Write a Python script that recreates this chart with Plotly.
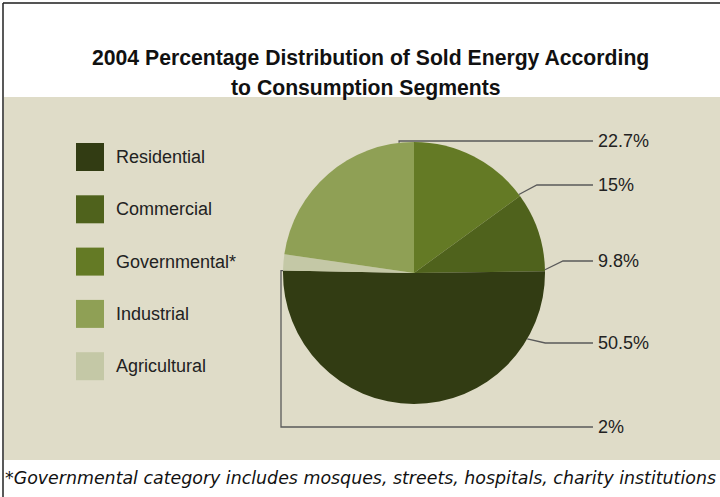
import math
import plotly.graph_objects as go

# Sold energy shares (%) by consumption segment, in clockwise slice order from 12 o'clock
segments = ["Governmental", "Commercial", "Residential", "Agricultural", "Industrial"]
shares = [15, 9.8, 50.5, 2, 22.7]
colors = ["#647a25", "#4f621c", "#323c13", "#c4c8a6", "#8fa055"]

# Legend order and labels
legend_order = ["Residential", "Commercial", "Governmental", "Industrial", "Agricultural"]
legend_text = ["Residential", "Commercial", "Governmental*", "Industrial", "Agricultural"]

W, H = 720, 497
BG = "#dfdcc8"

# pie geometry in pixels
cx, cy, R = 414, 273, 131


def px(x):
    return x / W


def py(y):
    return 1 - y / H


fig = go.Figure(go.Pie(
    labels=segments,
    values=shares,
    marker=dict(colors=colors, line=dict(width=0)),
    sort=False,
    direction="clockwise",
    rotation=0,
    textinfo="none",
    hoverinfo="label+percent",
    showlegend=False,
    domain=dict(x=[px(cx - R), px(cx + R)], y=[py(cy + R), py(cy - R)]),
))

shapes = []
annotations = []

# frame and panel background
shapes.append(dict(type="rect", xref="paper", yref="paper", x0=px(4), x1=1, y0=py(460), y1=py(97),
                   fillcolor=BG, line=dict(width=0), layer="below"))
shapes.append(dict(type="line", xref="paper", yref="paper", x0=px(3), x1=1, y0=py(3), y1=py(3),
                   line=dict(color="#555555", width=2)))
shapes.append(dict(type="line", xref="paper", yref="paper", x0=px(3), x1=px(3), y0=py(3), y1=0,
                   line=dict(color="#222222", width=1.5)))

# title
title_font = dict(family="Liberation Sans", size=21.2, color="#111111")
annotations.append(dict(
    text="<b>2004 Percentage Distribution of Sold Energy According</b>",
    x=px(371), y=py(58), xref="paper", yref="paper", showarrow=False,
    font=title_font, xanchor="center", yanchor="middle"))
annotations.append(dict(
    text="<b>to Consumption Segments</b>",
    x=px(366), y=py(88), xref="paper", yref="paper", showarrow=False,
    font=title_font, xanchor="center", yanchor="middle"))

# legend swatches
text_font = dict(family="Liberation Sans", size=18, color="#222222")
color_of = dict(zip(segments, colors))
for i, (name, txt) in enumerate(zip(legend_order, legend_text)):
    yc = 157 + i * 52.3
    shapes.append(dict(type="rect", xref="paper", yref="paper",
                       x0=px(76), x1=px(104), y0=py(yc + 14), y1=py(yc - 14),
                       fillcolor=color_of[name], line=dict(width=0)))
    annotations.append(dict(text=txt, x=px(114), y=py(yc), xref="paper", yref="paper",
                            showarrow=False, xanchor="left", yanchor="middle", font=text_font))

# leader lines: anchor angle on the rim (degrees clockwise from 12 o'clock),
# optional elbow, then a horizontal run to the label column
label_x = 593
cum = []
acc = 0
for v in shares:
    cum.append((acc, acc + v))
    acc += v
total = sum(shares)
# where along each slice (0=start, 1=end) the leader touches the rim
attach_frac = {"Governmental": 0.985, "Commercial": 0.98, "Residential": 0.17,
               "Agricultural": 0.0, "Industrial": 0.92}
label_y = {"Industrial": 141, "Governmental": 185, "Commercial": 261,
           "Residential": 343, "Agricultural": 427}

for name, v, (a0, a1) in zip(segments, shares, cum):
    f = attach_frac[name]
    ang = math.radians(360 * (a0 + f * (a1 - a0)) / total)
    ax = cx + R * math.sin(ang)
    ay = cy - R * math.cos(ang)
    ly = label_y[name]
    if name == "Industrial":
        pts = [(ax, ay), (ax, ly), (label_x, ly)]
    elif name == "Agricultural":
        pts = [(ax, ay), (281, ay), (281, ly), (label_x, ly)]
    elif abs(ay - ly) < 3:
        pts = [(ax, ly), (label_x, ly)]
    else:
        pts = [(ax, ay), (ax + 18 * (1 if ax > cx else -1), ly), (label_x, ly)]
    path = "M " + " L ".join(f"{px(x):.5f},{py(y):.5f}" for x, y in pts)
    shapes.append(dict(type="path", xref="paper", yref="paper", path=path,
                       line=dict(color="#5a5a5a", width=1.3)))
    annotations.append(dict(text=f"{v:g}%", x=px(label_x + 3), y=py(ly), xref="paper", yref="paper",
                            showarrow=False, xanchor="left", yanchor="middle", font=text_font))

# footnote
annotations.append(dict(
    text="<i>*Governmental category includes mosques, streets, hospitals, charity institutions</i>",
    x=px(3), y=py(478), xref="paper", yref="paper", showarrow=False, xanchor="left", yanchor="middle",
    font=dict(family="DejaVu Sans", size=17.4, color="#111111")))

fig.update_layout(
    width=W, height=H,
    margin=dict(l=0, r=0, t=0, b=0),
    paper_bgcolor="white", plot_bgcolor="white",
    shapes=shapes, annotations=annotations,
)

fig.write_html("out.html")
